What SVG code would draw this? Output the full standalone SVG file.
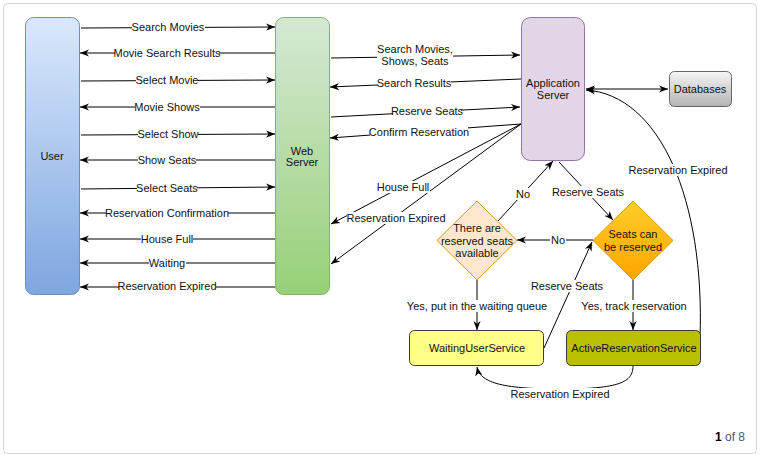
<svg xmlns="http://www.w3.org/2000/svg" width="762" height="459" viewBox="0 0 762 459">
<defs>
<linearGradient id="gUser" x1="0" y1="0" x2="0" y2="1"><stop offset="0" stop-color="#dae8fc"/><stop offset="1" stop-color="#7ea6e0"/></linearGradient>
<linearGradient id="gWeb" x1="0" y1="0" x2="0" y2="1"><stop offset="0" stop-color="#d5e8d4"/><stop offset="1" stop-color="#97d077"/></linearGradient>
<linearGradient id="gDb" x1="0" y1="0" x2="0" y2="1"><stop offset="0" stop-color="#f5f5f5"/><stop offset="1" stop-color="#b3b3b3"/></linearGradient>
<linearGradient id="gSeat" x1="0" y1="0" x2="0" y2="1"><stop offset="0" stop-color="#ffcd28"/><stop offset="1" stop-color="#ffa500"/></linearGradient>
<marker id="arr" viewBox="0 0 10 10" refX="10" refY="5" markerWidth="9" markerHeight="9" markerUnits="userSpaceOnUse" orient="auto-start-reverse">
<path d="M0,1 L10,5 L0,9 L3,5 z" fill="#000"/>
</marker>
<style>
text{font-family:"Liberation Sans",Arial,sans-serif;font-size:11px;fill:#111;text-anchor:middle;dominant-baseline:central}
.e{fill:none;stroke:#000;stroke-width:1}
.a{marker-end:url(#arr)}
.bg{fill:#fff}
</style>
</defs>
<rect x="3.5" y="3.5" width="753" height="450" rx="4" fill="#fff" stroke="#d4d4d4"/>

<g id="connectors">
<path class="e a" d="M81,28 L275,27"/>
<path class="e a" d="M276,53 L80,53"/>
<path class="e a" d="M81,81 L275,80"/>
<path class="e a" d="M276,107 L80,107"/>
<path class="e a" d="M81,135 L275,134"/>
<path class="e a" d="M276,160 L80,160"/>
<path class="e a" d="M81,189 L275,187"/>
<path class="e a" d="M276,213 L80,213"/>
<path class="e a" d="M276,239 L80,239"/>
<path class="e a" d="M276,263 L80,263"/>
<path class="e a" d="M276,287 L80,287"/>

<path class="e a" d="M331,58 L520,55"/>
<path class="e a" d="M521,79 L330,87"/>
<path class="e a" d="M331,117 L520,107"/>
<path class="e a" d="M521,124 L330,138"/>
<path class="e a" d="M521,124 L331,224"/>
<path class="e a" d="M521,124 L331,264"/>

<path class="e a" d="M498,221 L553,161"/>
<path class="e a" d="M559,162 L613,220"/>
<path class="e a" d="M593,240 L517,240"/>
<path class="e a" d="M477,280 L477,330"/>
<path class="e a" d="M633,280 L633,330"/>
<path class="e a" d="M544,348 L592,242"/>
<path class="e a" d="M633,366 C633,382 620,389 560,389 C500,389 480,382 477,367"/>
<path class="e a" d="M700,338 C705,200 660,95 586,90"/>
<path class="e a" d="M586,89 L668,89" style="marker-start:url(#arr)"/>

<rect class="bg" x="132" y="21" width="73" height="12"/><text x="168" y="27">Search Movies</text>
<rect class="bg" x="115" y="47" width="104" height="12"/><text x="167" y="53">Movie Search Results</text>
<rect class="bg" x="136" y="74" width="62" height="12"/><text x="167" y="80">Select Movie</text>
<rect class="bg" x="135" y="101" width="65" height="12"/><text x="167" y="107">Movie Shows</text>
<rect class="bg" x="138" y="128" width="60" height="12"/><text x="168" y="134">Select Show</text>
<rect class="bg" x="138" y="154" width="58" height="12"/><text x="167" y="160">Show Seats</text>
<rect class="bg" x="137" y="182" width="60" height="12"/><text x="167" y="188">Select Seats</text>
<rect class="bg" x="106" y="207" width="122" height="12"/><text x="167" y="213">Reservation Confirmation</text>
<rect class="bg" x="141" y="233" width="52" height="12"/><text x="167" y="239">House Full</text>
<rect class="bg" x="149" y="257" width="37" height="12"/><text x="167" y="263">Waiting</text>
<rect class="bg" x="119" y="280" width="97" height="12"/><text x="167" y="286">Reservation Expired</text>

<rect class="bg" x="377" y="43" width="76" height="25"/><text x="415" y="49">Search Movies,</text><text x="415" y="61">Shows, Seats</text>
<rect class="bg" x="378" y="77" width="73" height="12"/><text x="414" y="83">Search Results</text>
<rect class="bg" x="393" y="105" width="68" height="12"/><text x="427" y="111">Reserve Seats</text>
<rect class="bg" x="370" y="126" width="98" height="12"/><text x="419" y="132">Confirm Reservation</text>
<rect class="bg" x="377" y="181" width="53" height="12"/><text x="403" y="187">House Full</text>
<rect class="bg" x="347" y="212" width="98" height="12"/><text x="396" y="218">Reservation Expired</text>

<rect class="bg" x="515" y="188" width="16" height="12"/><text x="523" y="194">No</text>
<rect class="bg" x="554" y="186" width="69" height="12"/><text x="588" y="192">Reserve Seats</text>
<rect class="bg" x="550" y="234" width="16" height="12"/><text x="558" y="240">No</text>
<rect class="bg" x="408" y="300" width="138" height="12"/><text x="477" y="306">Yes, put in the waiting queue</text>
<rect class="bg" x="582" y="300" width="104" height="12"/><text x="634" y="306">Yes, track reservation</text>
<rect class="bg" x="532" y="280" width="70" height="12"/><text x="567" y="286">Reserve Seats</text>
<rect class="bg" x="512" y="388" width="97" height="12"/><text x="560" y="394">Reservation Expired</text>
<rect class="bg" x="630" y="164" width="97" height="12"/><text x="678" y="170">Reservation Expired</text>
</g>

<g id="user">
<rect x="25.5" y="17.5" width="54" height="277" rx="8" fill="url(#gUser)" stroke="#6c8ebf"/>
<text x="52" y="156">User</text>
</g>
<g id="webserver">
<rect x="275.5" y="17.5" width="54" height="277" rx="8" fill="url(#gWeb)" stroke="#82b366"/>
<text x="302" y="151">Web</text><text x="302" y="162">Server</text>
</g>
<g id="appserver">
<rect x="521.5" y="17.5" width="63" height="143" rx="9" fill="#e1d5e7" stroke="#9673a6"/>
<text x="553" y="83">Application</text><text x="553" y="95">Server</text>
</g>
<g id="databases">
<rect x="669.5" y="71.5" width="62" height="35" rx="5" fill="url(#gDb)" stroke="#666"/>
<text x="700" y="89">Databases</text>
</g>
<g id="reservedavailable">
<path d="M477,201 L517,240.5 L477,280 L437,240.5 Z" fill="#ffe6cc" stroke="#d79b00"/>
<text x="477" y="228">There are</text><text x="477" y="241">reserved seats</text><text x="477" y="253">available</text>
</g>
<g id="seatscanbereserved">
<path d="M633,201 L673,240.5 L633,280 L593,240.5 Z" fill="url(#gSeat)" stroke="#d79b00"/>
<text x="633" y="234">Seats can</text><text x="633" y="247">be reserved</text>
</g>
<g id="waitinguserservice">
<rect x="409.5" y="330.5" width="134" height="35" rx="5" fill="#ffff88" stroke="#36393d"/>
<text x="477" y="348">WaitingUserService</text>
</g>
<g id="activereservationservice">
<rect x="566.5" y="330.5" width="134" height="35" rx="5" fill="#bac000" stroke="#36393d"/>
<text x="634" y="348">ActiveReservationService</text>
</g>
<text x="745" y="437" style="text-anchor:end;font-size:12px;fill:#4a5570"><tspan style="font-weight:bold;fill:#000">1</tspan> of 8</text>
</svg>
